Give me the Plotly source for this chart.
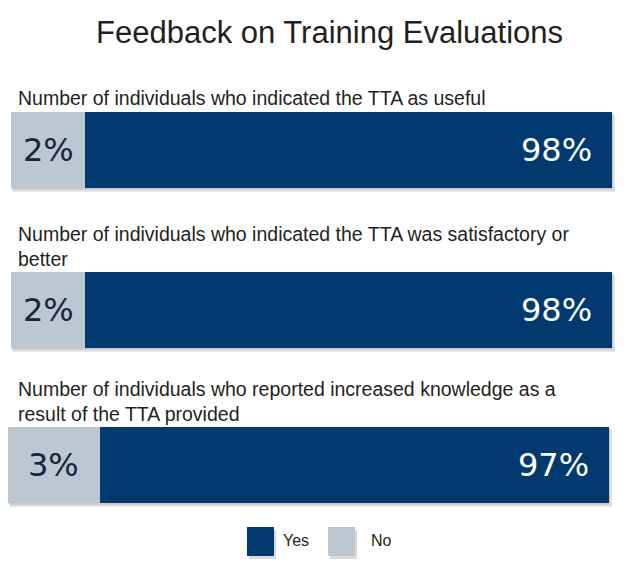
import plotly.graph_objects as go

# ---- data ----
questions = [
    "Number of individuals who indicated the TTA as useful",
    "Number of individuals who indicated the TTA was satisfactory or<br>better",
    "Number of individuals who reported increased knowledge as a<br>result of the TTA provided",
]
no_pct = [2, 2, 3]
yes_pct = [98, 98, 97]
series_names = ["Yes", "No"]
title_text = "Feedback on Training Evaluations"

# ---- style / layout ----
PAGE_W, PAGE_H = 627, 567
OFF = 8                      # default page (body) margin
W, H = PAGE_W - 2 * OFF, PAGE_H - 2 * OFF
YES_COLOR = "#023A6F"
NO_COLOR = "#BDC7D2"
NO_TEXT = "#16263F"
TEXT = "#231F20"
TEXT_FONT = "Liberation Sans"
NUM_FONT = "DejaVu Sans"

# page-pixel geometry of each bar row (left, right, top, bottom)
rows_px = [(11, 612, 112, 188), (11, 612, 272, 348), (8, 609, 427, 503)]
axis_start = [-11.8, -11.8, -14.5]   # left end of each value axis
label_top_px = [85, 221, 376]

def px(x):
    return min(max((x - OFF) / W, 0), 1)

def py(y):
    return min(max(1 - (y - OFF) / H, 0), 1)

def pxs(x):   # unclamped, for shapes
    return (x - OFF) / W

def pys(y):
    return 1 - (y - OFF) / H

fig = go.Figure()
annotations = []
shapes = []

for i in range(3):
    ax = "" if i == 0 else str(i + 1)
    xa, ya = "x" + ax, "y" + ax
    l, r, t, b = rows_px[i]
    s = axis_start[i]
    # soft shadow
    shapes.append(dict(type="rect", xref="paper", yref="paper",
                       x0=pxs(l + 2), x1=pxs(r + 3), y0=pys(b + 4), y1=pys(t + 3),
                       fillcolor="#E6E6E6", line=dict(width=0), layer="below"))
    shapes.append(dict(type="rect", xref="paper", yref="paper",
                       x0=pxs(l + 1), x1=pxs(r + 1.5), y0=pys(b + 2), y1=pys(t + 2),
                       fillcolor="#CCCCCC", line=dict(width=0), layer="below"))
    # No segment (starts at the left end of the axis, ends at its value)
    fig.add_trace(go.Bar(
        y=[0], x=[no_pct[i] - s], base=[s], orientation="h",
        marker=dict(color=NO_COLOR, line=dict(width=0)),
        name="No", showlegend=False, xaxis=xa, yaxis=ya, hoverinfo="skip",
    ))
    # Yes segment
    fig.add_trace(go.Bar(
        y=[0], x=[yes_pct[i]], base=[no_pct[i]], orientation="h",
        marker=dict(color=YES_COLOR, line=dict(width=0)),
        name="Yes", showlegend=False, xaxis=xa, yaxis=ya, hoverinfo="skip",
    ))
    fig.layout["xaxis" + ax] = dict(
        domain=[px(l), px(r)], range=[s, no_pct[i] + yes_pct[i]],
        visible=False, fixedrange=True, anchor=ya,
    )
    fig.layout["yaxis" + ax] = dict(
        domain=[py(b), py(t)], range=[-0.5, 0.5],
        visible=False, fixedrange=True, anchor=xa,
    )
    # value labels
    annotations.append(dict(
        x=(s + no_pct[i]) / 2, y=0, xref=xa, yref=ya,
        text=f"{no_pct[i]}%", showarrow=False, xanchor="center",
        font=dict(family=NUM_FONT, size=32, color=NO_TEXT),
    ))
    annotations.append(dict(
        x=no_pct[i] + yes_pct[i], y=0, xref=xa, yref=ya, xshift=-18,
        text=f"{yes_pct[i]}%", showarrow=False, xanchor="right",
        font=dict(family=NUM_FONT, size=32, color="#FFFFFF"),
    ))
    # question label
    annotations.append(dict(
        x=px(16), y=py(label_top_px[i]), xref="paper", yref="paper",
        text=questions[i], showarrow=False, xanchor="left", yanchor="top",
        align="left", font=dict(family=TEXT_FONT, size=19.5, color=TEXT),
    ))

# title
annotations.append(dict(
    x=px(329), y=py(32), xref="paper", yref="paper", text=title_text,
    showarrow=False, xanchor="center", yanchor="middle",
    font=dict(family=TEXT_FONT, size=31, color=TEXT),
))

# legend (drawn manually to get large swatches)
legend_items = [(series_names[0], YES_COLOR, 247, 281), (series_names[1], NO_COLOR, 328, 369)]
for name, color, x0, tx in legend_items:
    shapes.append(dict(type="rect", xref="paper", yref="paper",
                       x0=pxs(x0 + 2), x1=pxs(x0 + 29), y0=pys(559), y1=pys(530),
                       fillcolor="#DADADA", line=dict(width=0), layer="below"))
    shapes.append(dict(type="rect", xref="paper", yref="paper",
                       x0=pxs(x0), x1=pxs(x0 + 27), y0=pys(556), y1=pys(527),
                       fillcolor=color, line=dict(width=0)))
    annotations.append(dict(
        x=px(tx), y=py(540), xref="paper", yref="paper",
        text=name, showarrow=False, xanchor="left", yanchor="middle",
        font=dict(family=TEXT_FONT, size=16, color=TEXT),
    ))

fig.update_layout(
    width=W, height=H, margin=dict(l=0, r=0, t=0, b=0),
    paper_bgcolor="white", plot_bgcolor="white",
    barmode="overlay", bargap=0, showlegend=False,
    annotations=annotations, shapes=shapes,
)

fig.write_html("out.html")
